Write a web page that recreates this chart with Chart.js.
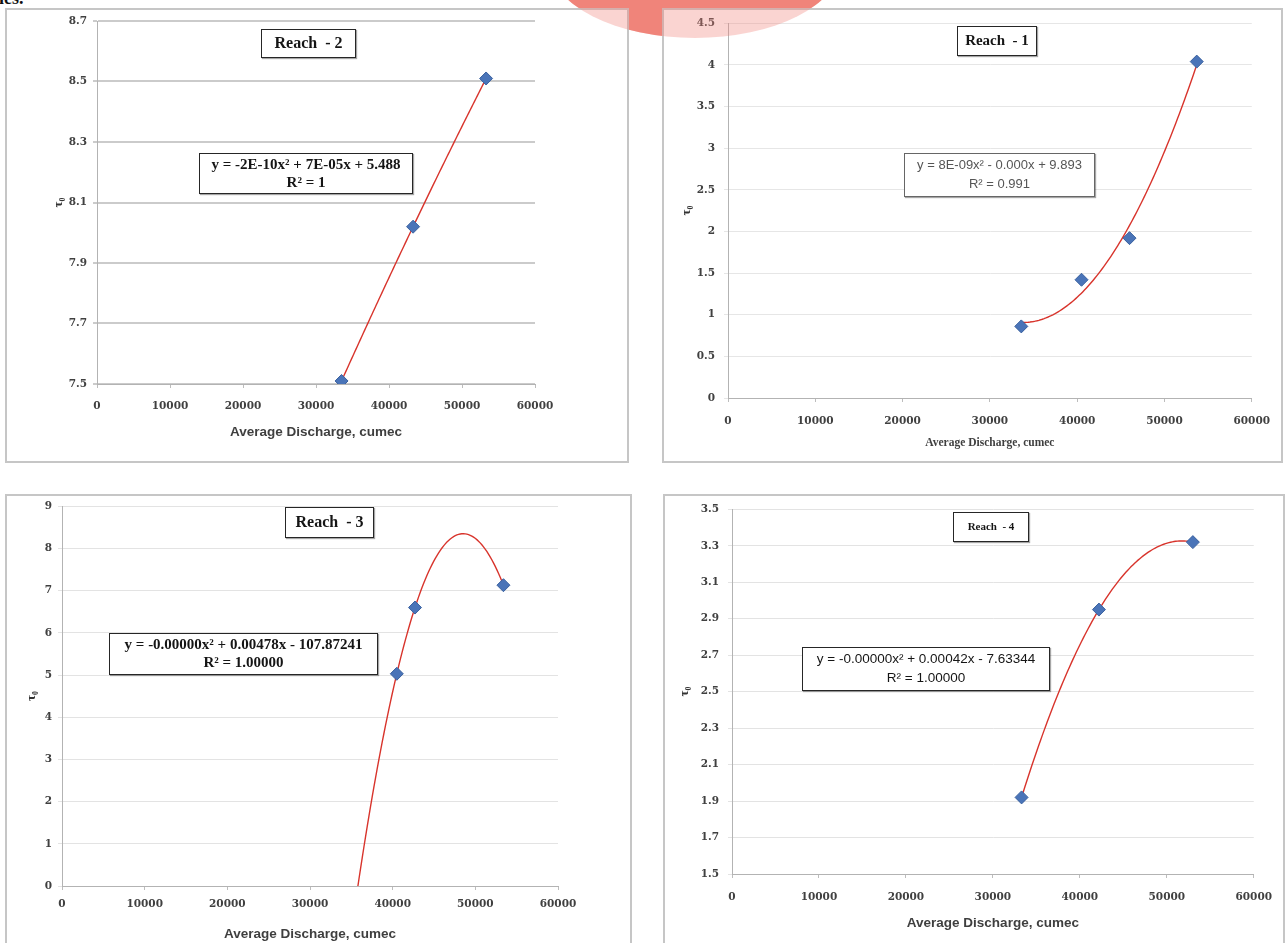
<!DOCTYPE html>
<html><head><meta charset="utf-8">
<script src="https://cdn.jsdelivr.net/npm/chart.js@4.4.1/dist/chart.umd.min.js"></script>
<style>
html,body{margin:0;padding:0;background:#fff;}
#page{position:relative;width:1287px;height:943px;overflow:hidden;background:#fff;}
.frame{position:absolute;box-sizing:border-box;border:2px solid #c6c6c6;background:#fff;}
canvas{position:absolute;}
.tbox{position:absolute;box-sizing:border-box;border:1.5px solid #262626;background:#fff;box-shadow:1px 1px 1px rgba(0,0,0,.35);text-align:center;white-space:pre;color:#151515;}
.serifb{font-family:"Liberation Serif","Times New Roman",serif;font-weight:bold;}
.sans{font-family:"Liberation Sans",Arial,sans-serif;}
#cut{position:absolute;left:-1px;top:-12px;font:bold 18px "Liberation Serif",serif;color:#111;}
#wmBack{position:absolute;left:550px;top:-110px;width:290px;height:148px;border-radius:50%;background:#f0857a;}
#wmFront{position:absolute;left:550px;top:-110px;width:290px;height:148px;border-radius:50%;background:rgba(240,133,122,0.35);pointer-events:none;}
</style></head>
<body><div id="page">
<div id="wmBack"></div>
<div id="cut">ies.</div>
<div class="frame" id="fA"></div><div class="frame" id="fB"></div>
<div class="frame" id="fC"></div><div class="frame" id="fD"></div>
<canvas id="cA"></canvas><canvas id="cB"></canvas><canvas id="cC"></canvas><canvas id="cD"></canvas>
<div id="wmFront"></div>
<div class="tbox serifb" id="tA"></div><div class="tbox serifb" id="tB"></div>
<div class="tbox serifb" id="tC"></div><div class="tbox serifb" id="tD"></div>
<div class="tbox serifb" id="eA"></div><div class="tbox sans" id="eB"></div>
<div class="tbox serifb" id="eC"></div><div class="tbox sans" id="eD"></div>
</div>
<script>
// ---------------- data ----------------
const xTickValues = [0, 10000, 20000, 30000, 40000, 50000, 60000];
const xTickLabels = ['0', '10000', '20000', '30000', '40000', '50000', '60000'];
const xAxisTitle = 'Average Discharge, cumec';
const yAxisTitle = 'τ₀';

// Reach - 2 (top left)
const reach2X = [33500, 43300, 53300];
const reach2Y = [7.51, 8.02, 8.51];
const reach2YTicks = [7.5, 7.7, 7.9, 8.1, 8.3, 8.5, 8.7];
const reach2YLabels = ['7.5', '7.7', '7.9', '8.1', '8.3', '8.5', '8.7'];
const reach2Trend = [33500, 53300];
const reach2Title = 'Reach  - 2';
const reach2Eq = ['y = -2E-10x² + 7E-05x + 5.488', 'R² = 1'];

// Reach - 1 (top right)
const reach1X = [33600, 40500, 46000, 53700];
const reach1Y = [0.86, 1.42, 1.92, 4.04];
const reach1YTicks = [0, 0.5, 1, 1.5, 2, 2.5, 3, 3.5, 4, 4.5];
const reach1YLabels = ['0', '0.5', '1', '1.5', '2', '2.5', '3', '3.5', '4', '4.5'];
const reach1Trend = [33600, 53700];
const reach1Title = 'Reach  - 1';
const reach1Eq = ['y = 8E-09x² - 0.000x + 9.893', 'R² = 0.991'];

// Reach - 3 (bottom left)
const reach3X = [40500, 42700, 53400];
const reach3Y = [5.03, 6.6, 7.13];
const reach3YTicks = [0, 1, 2, 3, 4, 5, 6, 7, 8, 9];
const reach3YLabels = ['0', '1', '2', '3', '4', '5', '6', '7', '8', '9'];
const reach3Trend = [33300, 53400];
const reach3Title = 'Reach  - 3';
const reach3Eq = ['y = -0.00000x² + 0.00478x - 107.87241', 'R² = 1.00000'];

// Reach - 4 (bottom right)
const reach4X = [33300, 42200, 53000];
const reach4Y = [1.92, 2.95, 3.32];
const reach4YTicks = [1.5, 1.7, 1.9, 2.1, 2.3, 2.5, 2.7, 2.9, 3.1, 3.3, 3.5];
const reach4YLabels = ['1.5', '1.7', '1.9', '2.1', '2.3', '2.5', '2.7', '2.9', '3.1', '3.3', '3.5'];
const reach4Trend = [33300, 53000];
const reach4Title = 'Reach  - 4';
const reach4Eq = ['y = -0.00000x² + 0.00042x - 7.63344', 'R² = 1.00000'];

// ---------------- least-squares polynomial (order 2) trendline ----------------
function quadFit(xs, ys) {
  const s = 1e4, S = [0,0,0,0,0], T = [0,0,0];
  for (let i = 0; i < xs.length; i++) {
    const x = xs[i] / s, y = ys[i]; let p = 1;
    for (let k = 0; k < 5; k++) { S[k] += p; if (k < 3) T[k] += p * y; p *= x; }
  }
  const M = [[S[0],S[1],S[2],T[0]],[S[1],S[2],S[3],T[1]],[S[2],S[3],S[4],T[2]]];
  for (let c = 0; c < 3; c++) {
    let pv = c;
    for (let r = c + 1; r < 3; r++) if (Math.abs(M[r][c]) > Math.abs(M[pv][c])) pv = r;
    [M[c], M[pv]] = [M[pv], M[c]];
    for (let r = 0; r < 3; r++) if (r !== c) {
      const f = M[r][c] / M[c][c];
      for (let k = c; k < 4; k++) M[r][k] -= f * M[c][k];
    }
  }
  const c0 = M[0][3]/M[0][0], c1 = M[1][3]/M[1][1], c2 = M[2][3]/M[2][2];
  return x => { const u = x / s; return c0 + c1 * u + c2 * u * u; };
}

// ---------------- layout (page pixel geometry) ----------------
const tickFont = {family: '"DejaVu Serif", serif', size: 10.5, weight: 'bold'};
const sansTitle = {family: '"Liberation Sans", Arial, sans-serif', size: 13.5, weight: 'bold'};
const serifTitle = {family: '"Liberation Serif", serif', size: 11.5, weight: 'bold'};
const yTitleFont = {family: '"Liberation Serif", serif', size: 13, weight: 'bold'};

const charts = [
  {id:'A', xs:reach2X, ys:reach2Y, yt:reach2YTicks, yl:reach2YLabels, tr:reach2Trend, title:reach2Title, eq:reach2Eq,
   frame:[5,8,624,455], plot:[97,535,21,384], xPad:12, yPad:6, xTitleY:432, xTitleFont:sansTitle, yTitleX:59,
   grid:'#cbcbcb', gridW:2, tbox:[261,29,95,29,16], ebox:[199,153,214,41,15,18]},
  {id:'B', xs:reach1X, ys:reach1Y, yt:reach1YTicks, yl:reach1YLabels, tr:reach1Trend, title:reach1Title, eq:reach1Eq,
   frame:[662,8,621,455], plot:[728,1258,20,398], xPad:13, yPad:9, xTitleY:443, xTitleFont:serifTitle, yTitleX:687,
   grid:'#e6e6e6', gridW:1, tbox:[957,26,80,30,15], ebox:[904,153,191,44,13,19]},
  {id:'C', xs:reach3X, ys:reach3Y, yt:reach3YTicks, yl:reach3YLabels, tr:reach3Trend, title:reach3Title, eq:reach3Eq,
   frame:[5,494,627,470], plot:[62,558,505,886], xPad:8, yPad:6, xTitleY:934, xTitleFont:sansTitle, yTitleX:32,
   grid:'#e3e3e3', gridW:1, tbox:[285,507,89,31,16], ebox:[109,633,269,42,15,18]},
  {id:'D', xs:reach4X, ys:reach4Y, yt:reach4YTicks, yl:reach4YLabels, tr:reach4Trend, title:reach4Title, eq:reach4Eq,
   frame:[663,494,622,470], plot:[732,1257,505,874], xPad:13, yPad:9, xTitleY:923, xTitleFont:sansTitle, yTitleX:685,
   grid:'#e3e3e3', gridW:1, tbox:[953,512,76,30,11], ebox:[802,647,248,44,13.5,19]}
];

function place(el, l, t, w, h) {
  el.style.left = l + 'px'; el.style.top = t + 'px';
  el.style.width = w + 'px'; el.style.height = h + 'px';
}

charts.forEach(c => {
  const [fl, ft, fw, fh] = c.frame;
  const [px0, px1, py0, py1] = c.plot;
  place(document.getElementById('f' + c.id), fl, ft, fw, fh);
  const cv = document.getElementById('c' + c.id);
  cv.width = fw; cv.height = fh; cv.style.left = fl + 'px'; cv.style.top = ft + 'px';

  // text boxes
  const tb = document.getElementById('t' + c.id);
  place(tb, c.tbox[0], c.tbox[1], c.tbox[2], c.tbox[3]);
  tb.style.fontSize = c.tbox[4] + 'px'; tb.style.lineHeight = (c.tbox[3] - 3) + 'px';
  tb.textContent = c.title;
  const eb = document.getElementById('e' + c.id);
  place(eb, c.ebox[0], c.ebox[1], c.ebox[2], c.ebox[3]);
  eb.style.fontSize = c.ebox[4] + 'px'; eb.style.lineHeight = c.ebox[5] + 'px';
  eb.style.paddingTop = '1px';
  eb.innerHTML = '';
  c.eq.forEach(line => { const d = document.createElement('div'); d.textContent = line; eb.appendChild(d); });
  if (c.id === 'B') { eb.style.color = '#555'; eb.style.borderColor = '#666'; }

  // trendline
  const f = quadFit(c.xs, c.ys);
  const trend = [];
  const N = 100;
  for (let i = 0; i <= N; i++) {
    const x = c.tr[0] + (c.tr[1] - c.tr[0]) * i / N;
    trend.push({x: x, y: f(x)});
  }
  const pts = c.xs.map((x, i) => ({x: x, y: c.ys[i]}));

  const xlh = c.xTitleFont.size * 1.2, ylh = yTitleFont.size * 1.2;
  new Chart(cv, {
    type: 'scatter',
    data: {datasets: [
      {data: pts, pointStyle: 'rectRot', pointRadius: 6.5, pointHoverRadius: 6.5,
       backgroundColor: '#4a74b8', borderColor: '#3a619f', borderWidth: 1, showLine: false},
      {data: trend, showLine: true, borderColor: '#d8342c', borderWidth: 1.4,
       pointRadius: 0, pointHoverRadius: 0, fill: false, tension: 0}
    ]},
    options: {
      responsive: false, animation: false, devicePixelRatio: 1,
      layout: {padding: {left: 0, top: py0 - ft, right: fl + fw - px1, bottom: 0}},
      plugins: {legend: {display: false}, tooltip: {enabled: false}},
      scales: {
        x: {
          type: 'linear', position: 'bottom', min: 0, max: 60000,
          afterBuildTicks: s => { s.ticks = xTickValues.map(v => ({value: v})); },
          afterFit: s => { s.height = ft + fh - py1; },
          ticks: {callback: (v, i) => xTickLabels[i], font: tickFont, color: '#404040',
                  padding: c.xPad, maxRotation: 0, autoSkip: false},
          grid: {drawOnChartArea: false, drawTicks: true, tickLength: 4, color: '#bdbdbd'},
          border: {display: true, color: '#b3b3b3', width: 1},
          title: {display: true, text: xAxisTitle, font: c.xTitleFont, color: '#3f3f3f',
                  padding: {top: 0, bottom: (ft + fh) - c.xTitleY - xlh / 2}}
        },
        y: {
          type: 'linear', position: 'left', min: c.yt[0], max: c.yt[c.yt.length - 1],
          afterBuildTicks: s => { s.ticks = c.yt.map(v => ({value: v})); },
          afterFit: s => { s.width = px0 - fl; },
          ticks: {callback: (v, i) => c.yl[i], font: tickFont, color: '#404040',
                  padding: c.yPad, autoSkip: false},
          grid: {color: c.grid, lineWidth: c.gridW, drawTicks: true, tickLength: 4},
          border: {display: true, color: '#b3b3b3', width: 1},
          title: {display: true, text: yAxisTitle, font: yTitleFont, color: '#333',
                  padding: {top: (c.yTitleX - fl) - ylh / 2, bottom: 0}}
        }
      }
    }
  });
});
</script>
</body></html>
